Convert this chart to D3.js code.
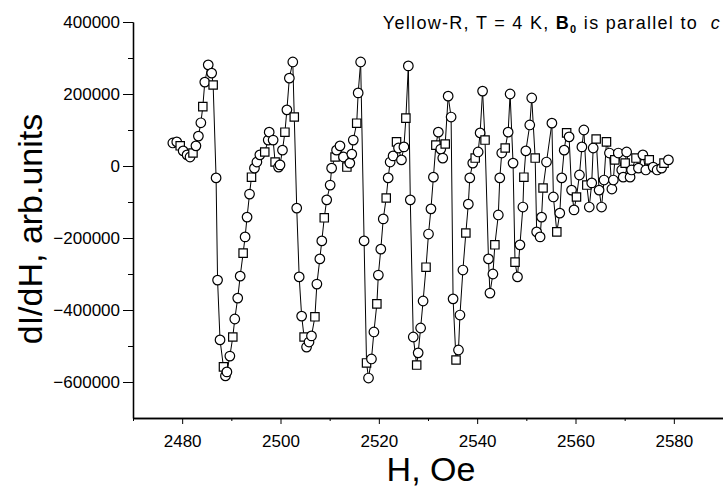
<!DOCTYPE html>
<html><head><meta charset="utf-8">
<script src="https://cdn.jsdelivr.net/npm/d3@7"></script>
<style>body{margin:0;background:#fff}svg{display:block}text{font-family:Arial,"Liberation Sans",sans-serif}</style>
</head><body><svg id="c" width="723" height="490"></svg>
<script>
const fieldH = [2478.1,2478.9,2479.6,2480.2,2481.0,2481.6,2482.2,2482.8,2483.3,2483.8,2484.2,2484.6,2485.3,2486.0,2486.3,2486.9,2487.2,2487.7,2488.4,2488.8,2489.1,2489.7,2490.3,2490.7,2491.3,2491.8,2492.4,2492.8,2493.2,2493.7,2494.1,2494.7,2495.2,2495.8,2496.8,2497.5,2497.7,2498.5,2498.9,2499.6,2499.9,2500.4,2500.9,2501.3,2501.8,2502.5,2502.8,2503.3,2503.8,2504.3,2504.8,2505.3,2505.8,2506.3,2507.0,2507.4,2508.0,2508.4,2508.9,2509.4,2510.1,2510.4,2511.1,2511.4,2512.1,2512.8,2513.5,2514.1,2514.5,2514.8,2515.5,2515.8,2516.3,2517.0,2517.5,2517.9,2518.5,2519.0,2519.6,2519.9,2520.4,2520.9,2521.5,2521.9,2522.3,2522.9,2523.6,2524.0,2524.6,2525.1,2525.5,2526.0,2526.4,2527.0,2527.7,2528.0,2528.5,2529.0,2529.6,2530.1,2530.6,2531.1,2531.6,2532.1,2532.6,2533.0,2533.5,2534.1,2534.7,2535.1,2535.7,2536.2,2536.5,2537.1,2537.7,2538.2,2538.5,2539.1,2539.6,2540.2,2540.6,2541.1,2541.6,2542.3,2542.6,2543.2,2543.6,2544.3,2544.6,2545.0,2545.7,2546.3,2546.7,2547.3,2547.7,2548.2,2548.7,2549.3,2549.5,2549.9,2550.7,2551.1,2551.8,2552.1,2552.8,2553.1,2553.4,2554.1,2555.2,2555.5,2556.2,2556.8,2557.2,2557.7,2558.2,2558.7,2559.2,2559.7,2560.2,2560.8,2561.3,2561.7,2562.3,2562.8,2563.3,2563.6,2564.2,2564.8,2565.3,2565.8,2566.3,2566.9,2567.4,2567.7,2568.0,2568.7,2569.4,2569.7,2570.1,2570.4,2571.1,2571.4,2572.3,2572.8,2573.7,2574.3,2575.0,2575.8,2576.6,2577.5,2578.0,2578.9];
const signal = [64000,67000,56000,42000,31000,25000,36000,56000,83000,120000,165000,233000,281000,258000,225000,-33000,-317000,-483000,-558000,-583000,-572000,-528000,-475000,-425000,-367000,-306000,-242000,-197000,-142000,-78000,-31000,-6000,11000,31000,39000,72000,94000,72000,11000,-3000,3000,44000,94000,156000,244000,289000,136000,-117000,-308000,-417000,-475000,-503000,-489000,-472000,-419000,-328000,-258000,-208000,-144000,-94000,-53000,-6000,25000,44000,56000,25000,-3000,8000,33000,72000,119000,203000,289000,-208000,-547000,-589000,-536000,-461000,-383000,-303000,-231000,-147000,-89000,-33000,11000,28000,67000,50000,17000,53000,133000,278000,-94000,-475000,-553000,-519000,-450000,-375000,-281000,-189000,-119000,-31000,58000,94000,47000,22000,61000,194000,136000,-369000,-539000,-511000,-414000,-289000,-186000,-106000,-33000,8000,22000,39000,92000,208000,72000,-258000,-353000,-300000,-219000,-136000,-33000,36000,50000,94000,200000,8000,-267000,-308000,-219000,-114000,-31000,42000,114000,189000,22000,-183000,-197000,-142000,-61000,11000,119000,-86000,-183000,-131000,-33000,44000,92000,81000,-67000,-122000,-86000,-25000,53000,100000,-53000,-114000,-47000,50000,75000,-67000,-114000,-39000,67000,36000,-64000,-39000,17000,36000,-11000,-31000,8000,39000,-31000,-11000,22000,-6000,31000,-11000,17000,-3000,-11000,-6000,8000,17000];
const xMajorTicks = [2480,2500,2520,2540,2560,2580];
const xMinorTicks = [2470,2490,2510,2530,2550,2570,2590];
const yMajorTicks = [-600000,-400000,-200000,0,200000,400000];
const yMinorTicks = [-500000,-300000,-100000,100000,300000];
const titleParts = ["Yellow-R, T = 4 K, ","B","0"," is parallel to  ","c"];
const xTitle = "H, Oe";
const yTitle = "dI/dH, arb.units";

const svg = d3.select("#c");
const x = d3.scaleLinear().domain([2470,2590]).range([133,723]);
const y = d3.scaleLinear().domain([-700000,400000]).range([418,22]);

// axes
const gx = svg.append("g").attr("transform","translate(0,418)");
gx.call(d3.axisBottom(x).tickValues(xMajorTicks).tickSize(6).tickSizeOuter(0).tickFormat(d3.format("d")));
gx.append("g").call(d3.axisBottom(x).tickValues(xMinorTicks).tickSize(3).tickSizeOuter(0).tickFormat(""));
gx.selectAll(".domain").attr("stroke","#000").attr("stroke-width",1.3);
gx.selectAll("text").attr("font-size",17).attr("dy","1.15em").attr("fill","#000").style("font-family","Arial, 'Liberation Sans', sans-serif");

const gy = svg.append("g").attr("transform","translate(133,0)");
gy.call(d3.axisLeft(y).tickValues(yMajorTicks).tickSize(10).tickSizeOuter(0).tickFormat(d3.format("d")));
gy.append("g").call(d3.axisLeft(y).tickValues(yMinorTicks).tickSize(5).tickSizeOuter(0).tickFormat(""));
gy.selectAll(".domain").attr("stroke","#000").attr("stroke-width",1.3);
gy.selectAll("text").attr("font-size",17).attr("x",-13).attr("fill","#000").style("font-family","Arial, 'Liberation Sans', sans-serif");

const pts = fieldH.map((h,i)=>[h,signal[i]]);
svg.append("path").datum(pts)
  .attr("d", d3.line().x(d=>x(d[0])).y(d=>y(d[1])))
  .attr("fill","none").attr("stroke","#000").attr("stroke-width",1);

svg.append("g").selectAll("path").data(pts).join("path")
  .attr("transform",d=>`translate(${x(d[0])},${y(d[1])})`)
  .attr("d",(d,i)=>d3.symbol().type(i%4===2?d3.symbolSquare:d3.symbolCircle).size(i%4===2?70:72)())
  .attr("fill","#fff").attr("stroke","#000").attr("stroke-width",1.2);

// title
const t = svg.append("text").attr("x",721).attr("y",29).attr("text-anchor","end").attr("font-size",18).attr("letter-spacing","1.3px").attr("fill","#000");
t.append("tspan").text(titleParts[0]);
t.append("tspan").attr("font-weight","bold").text(titleParts[1]);
t.append("tspan").attr("font-weight","bold").attr("font-size",11).attr("dy",4).text(titleParts[2]);
t.append("tspan").attr("dy",-4).style("white-space","pre").text(titleParts[3]);
t.append("tspan").attr("font-style","italic").text(titleParts[4]);

svg.append("text").attr("x",431).attr("y",481).attr("text-anchor","middle").attr("font-size",34).attr("fill","#000").text(xTitle);
svg.append("text").attr("transform","translate(42,229) rotate(-90)").attr("text-anchor","middle").attr("font-size",34).attr("fill","#000").text(yTitle);
</script></body></html>
